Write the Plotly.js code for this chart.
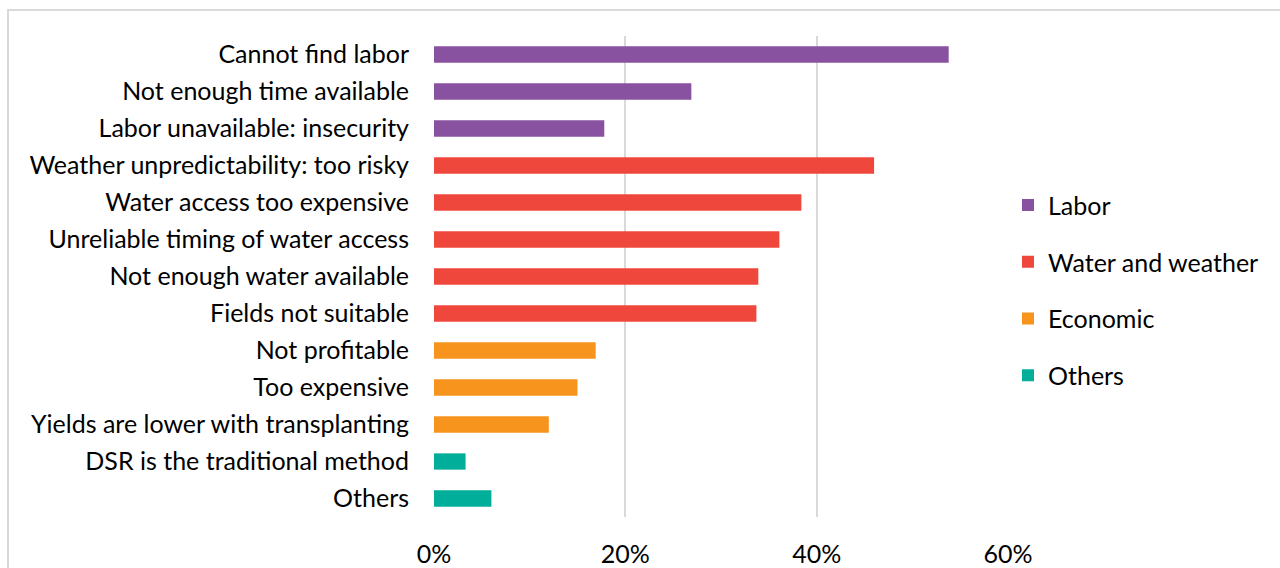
<!DOCTYPE html>
<html>
<head>
<meta charset="utf-8">
<script src="https://cdn.plot.ly/plotly-3.0.1.min.js"></script>
<style>
  html, body { margin: 0; padding: 0; background: #fff; overflow: hidden; }
  #wrap { position: relative; width: 1280px; height: 568px; }
  #frame { position: absolute; left: 7px; top: 9px; width: 1300px; height: 600px;
           border-top: 2px solid #d9d9d9; border-left: 2px solid #d9d9d9; box-sizing: border-box; }
  #chart { position: absolute; left: 0; top: 0; width: 1280px; height: 568px; }
</style>
</head>
<body>
<div id="wrap">
  <div id="frame"></div>
  <div id="chart"></div>
</div>
<script>
// Categories in display order (top to bottom)
const categoryOrder = [
  "Cannot find labor",
  "Not enough time available",
  "Labor unavailable: insecurity",
  "Weather unpredictability: too risky",
  "Water access too expensive",
  "Unreliable timing of water access",
  "Not enough water available",
  "Fields not suitable",
  "Not profitable",
  "Too expensive",
  "Yields are lower with transplanting",
  "DSR is the traditional method",
  "Others"
];

const laborCats = ["Cannot find labor", "Not enough time available", "Labor unavailable: insecurity"];
const laborVals = [0.538, 0.269, 0.178];

const waterCats = ["Weather unpredictability: too risky", "Water access too expensive",
  "Unreliable timing of water access", "Not enough water available", "Fields not suitable"];
const waterVals = [0.460, 0.384, 0.361, 0.339, 0.337];

const econCats = ["Not profitable", "Too expensive", "Yields are lower with transplanting"];
const econVals = [0.169, 0.150, 0.120];

const otherCats = ["DSR is the traditional method", "Others"];
const otherVals = [0.033, 0.060];

const groupNames = ["Labor", "Water and weather", "Economic", "Others"];
const groupColors = ["#8852A0", "#EF473C", "#F7941E", "#00AE9A"];
const groupCats = [laborCats, waterCats, econCats, otherCats];
const groupVals = [laborVals, waterVals, econVals, otherVals];

const xTickVals = [0, 0.2, 0.4, 0.6];
const xTickText = ["0%", "20%", "40%", "60%"];

const traces = groupNames.map((name, i) => ({
  type: "bar",
  orientation: "h",
  name: name,
  legendgroup: name,
  x: groupVals[i],
  y: groupCats[i],
  marker: { color: groupColors[i], line: { width: 0 } },
  hoverinfo: "x+y"
}));

const FONT = "Lato, 'Open Sans', sans-serif";

const layout = {
  width: 1280,
  height: 568,
  paper_bgcolor: "rgba(0,0,0,0)",
  plot_bgcolor: "rgba(0,0,0,0)",
  margin: { l: 433.5, r: 271.5, t: 35.5, b: 51 },
  barmode: "overlay",
  bargap: 0.56,
  font: { family: FONT, size: 25, color: "#000" },
  showlegend: true,
  legend: {
    x: 1.0, xanchor: "left",
    y: 0.696, yanchor: "top",
    traceorder: "grouped",
    tracegroupgap: 21.3,
    font: { family: FONT, size: 25, color: "#000" },
    bgcolor: "rgba(0,0,0,0)"
  },
  xaxis: {
    range: [0, 0.6],
    tickvals: xTickVals,
    ticktext: xTickText,
    showgrid: true,
    gridcolor: "#d9d9d9",
    gridwidth: 2,
    zeroline: false,
    showline: false,
    ticks: "",
    ticklabelstandoff: 20,
    fixedrange: true
  },
  yaxis: {
    type: "category",
    categoryorder: "array",
    categoryarray: categoryOrder,
    autorange: "reversed",
    showgrid: false,
    zeroline: false,
    showline: false,
    ticks: "",
    ticklabelstandoff: 24,
    fixedrange: true
  }
};

Plotly.newPlot("chart", traces, layout, { displayModeBar: false, staticPlot: true });
</script>
</body>
</html>
